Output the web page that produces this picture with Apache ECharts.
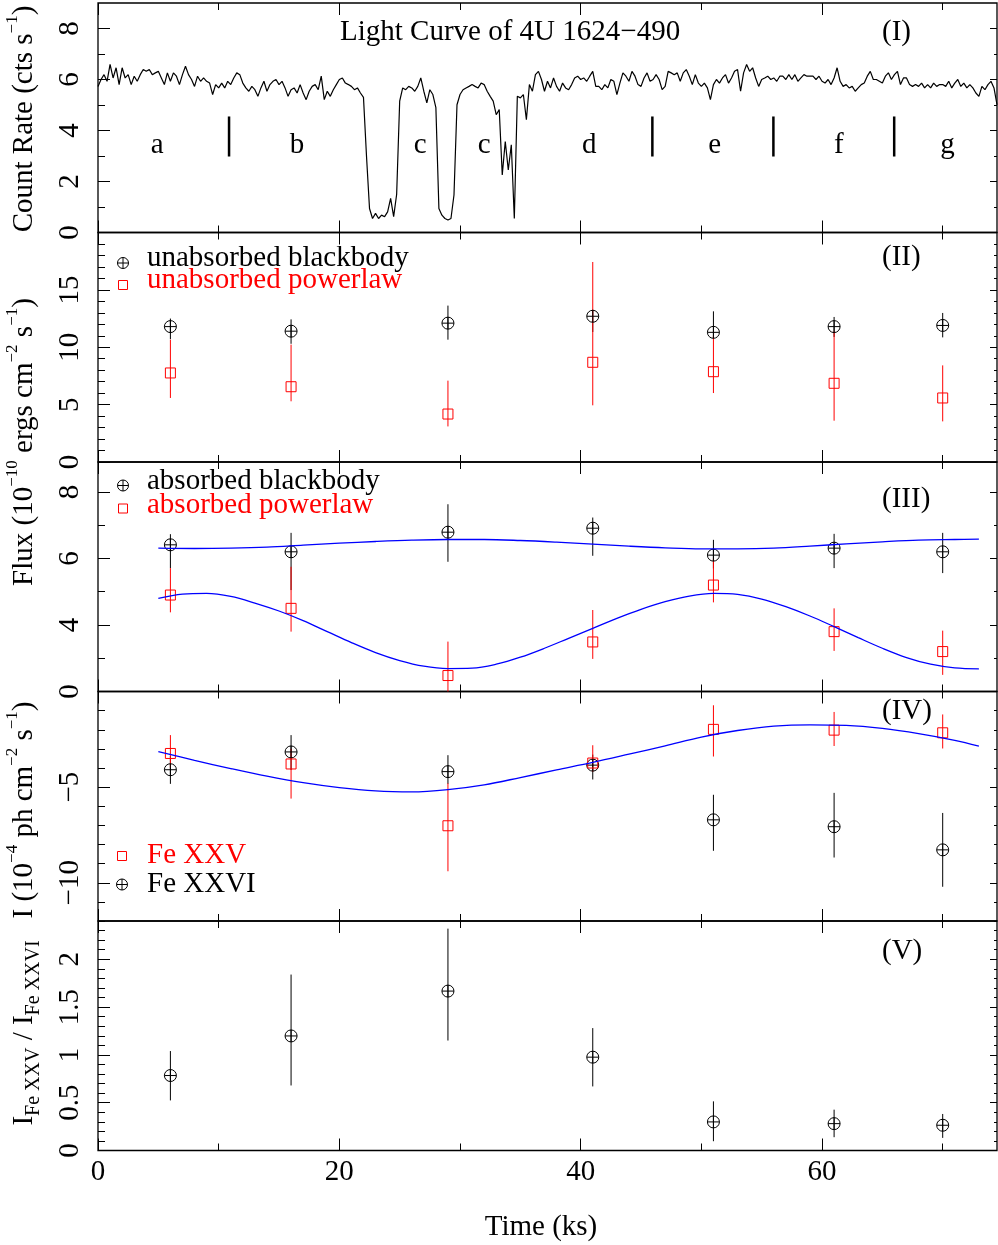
<!DOCTYPE html>
<html><head><meta charset="utf-8">
<script src="https://cdn.jsdelivr.net/npm/echarts@6/dist/echarts.min.js"></script>
<style>html,body{margin:0;padding:0;background:#fff}#c{width:998px;height:1245px}</style>
</head><body><div id="c"></div>
<script>
// ---------------- DATA ----------------
// Light curve (cts/s), bins of 0.25 ks starting at 0 ks
const lcStart = 0;
const lcBin = 0.25;
const lcRate = [
5.73,6.00,6.19,5.93,6.59,6.06,6.46,5.80,6.46,6.06,
6.19,5.80,6.13,5.93,6.19,6.39,6.32,6.39,6.19,6.26,
6.32,6.06,5.80,6.26,5.93,6.26,6.13,5.80,6.19,6.52,
6.19,6.00,5.73,6.13,5.93,6.06,5.93,5.86,5.41,5.80,
5.67,5.86,5.67,5.93,5.80,6.06,6.26,6.19,5.86,5.67,
5.54,5.73,5.60,5.34,5.67,5.93,5.54,5.80,5.93,6.00,
5.80,5.93,5.67,5.34,5.60,5.67,5.47,5.80,5.47,5.21,
5.54,5.73,5.80,5.60,6.13,5.21,5.54,5.34,5.60,5.80,
6.00,6.06,5.86,5.80,5.73,5.60,5.67,5.47,5.30,3.00,
0.94,0.55,0.75,0.55,0.68,0.62,0.81,1.34,0.62,1.50,
5.15,5.67,5.60,5.73,5.67,5.54,5.73,6.06,5.54,5.08,
5.60,5.41,4.90,0.94,0.68,0.55,0.49,0.55,1.47,5.01,
5.41,5.60,5.67,5.73,5.80,5.73,5.67,5.86,5.80,5.54,
5.34,5.15,4.62,4.82,2.26,3.57,2.45,3.44,0.55,5.34,
5.28,5.41,4.42,5.80,5.54,6.19,6.32,6.00,5.54,
5.93,5.67,6.06,5.73,5.54,5.86,5.67,5.60,5.80,6.06,
6.13,6.00,6.06,5.93,6.13,6.32,5.73,5.73,5.60,5.80,
5.67,6.00,5.93,5.41,5.86,6.26,6.13,5.93,6.32,6.13,
5.80,5.73,6.06,6.26,5.93,6.00,6.19,6.00,5.60,5.73,
6.32,6.26,6.19,6.26,5.93,6.26,6.39,6.13,5.80,6.19,
5.86,5.73,5.86,5.67,5.21,5.80,6.00,5.86,6.06,6.19,
5.86,6.06,6.32,6.39,5.54,6.26,6.59,6.32,6.46,6.06,
5.73,6.00,6.06,6.13,6.00,6.06,5.93,6.13,6.13,6.00,
6.19,6.00,6.19,5.93,6.06,6.19,6.13,6.13,6.13,6.00,
6.13,5.93,5.86,6.00,5.80,6.06,6.46,5.93,5.73,5.80,
5.67,5.73,5.54,5.67,5.80,5.86,6.13,6.32,6.00,6.00,
5.93,5.86,6.13,6.26,6.00,6.19,6.32,5.80,6.06,6.06,
5.80,5.73,5.80,5.73,5.86,5.67,5.80,5.67,5.86,5.73,
5.80,5.80,5.73,5.93,5.67,5.86,6.00,5.73,5.86,5.67,
5.80,5.67,5.47,5.34,5.73,5.60,5.80,5.93,5.67,5.01
];
// segment separators and labels in the light curve
const sepTimes = [10.86, 45.94, 55.97, 65.98];
const sepLow = 2.98, sepHigh = 4.55;
const segLabels = ['a','b','c','c','d','e','f','g'];
const segLabelTimes = [4.9, 16.5, 26.7, 32.0, 40.7, 51.1, 61.4, 70.4];
const segLabelLevel = 3.4;

// spectral time bins (ks)
const specTime = [6, 16, 29, 41, 51, 61, 70];

// Panel II: unabsorbed fluxes (1e-10 erg/cm2/s)
const unabsBB   = [11.8, 11.4, 12.1, 12.7, 11.3, 11.8, 11.9];
const unabsBBLo = [10.7, 10.3, 10.66, 11.33, 10.8, 10.9, 10.86];
const unabsBBHi = [12.5, 12.43, 13.63, 13.28, 13.13, 12.64, 12.99];
const unabsPL   = [7.76, 6.56, 4.18, 8.69, 7.87, 6.86, 5.58];
const unabsPLLo = [5.58, 5.29, 3.10, 4.94, 6.01, 3.6, 3.54];
const unabsPLHi = [10.66, 10.23, 7.09, 17.43, 11.0, 11.4, 8.42];

// Panel III: absorbed fluxes
const absBB   = [6.41, 6.2, 6.79, 6.91, 6.1, 6.31, 6.2];
const absBBLo = [5.71, 5.05, 5.9, 6.08, 5.7, 5.71, 5.56];
const absBBHi = [6.73, 6.77, 7.63, 7.23, 6.56, 6.74, 6.77];
const absPL   = [4.9, 4.5, 2.48, 3.49, 5.2, 3.8, 3.2];
const absPLLo = [4.38, 3.8, 1.8, 2.98, 4.68, 3.22, 2.5];
const absPLHi = [5.71, 5.75, 3.5, 4.45, 6.0, 4.5, 3.83];
const fitBBTime = [5, 8, 11, 14, 17, 20, 23, 26, 29, 32, 35, 38, 41, 44, 47, 50, 53, 56, 59, 62, 65, 68, 71, 73];
const fitBBVal  = [6.31, 6.30, 6.31, 6.34, 6.40, 6.46, 6.51, 6.55, 6.57, 6.57, 6.54, 6.49, 6.43, 6.37, 6.32, 6.29, 6.29, 6.31, 6.37, 6.44, 6.50, 6.55, 6.57, 6.58];
const fitPLTime = [5, 7, 9, 11, 13, 15, 17, 19, 21, 23, 25, 27, 29, 31, 33, 35, 37, 39, 41, 43, 45, 47, 49, 51, 53, 55, 57, 59, 61, 63, 65, 67, 69, 71, 73];
const fitPLVal  = [4.80, 4.93, 4.95, 4.86, 4.66, 4.42, 4.13, 3.80, 3.47, 3.17, 2.93, 2.76, 2.69, 2.70, 2.82, 3.03, 3.30, 3.60, 3.90, 4.20, 4.47, 4.70, 4.87, 4.95, 4.92, 4.78, 4.55, 4.27, 3.95, 3.62, 3.30, 3.02, 2.82, 2.71, 2.68];

// Panel IV: line intensities (1e-4 ph/cm2/s)
const feXXV     = [-3.24, -3.79, -7.02, -3.74, -1.98, -2.02, -2.16];
const feXXVLo   = [-4.0, -5.6, -9.4, -4.2, -3.4, -2.85, -2.98];
const feXXVHi   = [-2.28, -3.0, -4.8, -2.81, -0.72, -1.07, -1.2];
const feXXVI    = [-4.09, -3.16, -4.19, -3.85, -6.71, -7.07, -8.28];
const feXXVILo  = [-4.83, -4.1, -4.83, -4.6, -8.33, -8.68, -10.21];
const feXXVIHi  = [-3.36, -2.28, -3.33, -3.3, -5.4, -5.3, -6.35];
const fitFeTime = [5, 8, 11, 14, 17, 20, 23, 26, 29, 32, 35, 38, 41, 44, 47, 50, 53, 56, 59, 62, 65, 68, 71, 73];
const fitFeVal  = [-3.14, -3.60, -4.03, -4.43, -4.77, -5.03, -5.20, -5.25, -5.13, -4.88, -4.50, -4.10, -3.71, -3.28, -2.84, -2.38, -2.04, -1.81, -1.74, -1.77, -1.93, -2.20, -2.55, -2.85];

// Panel V: ratio
const ratio   = [0.784, 1.198, 1.667, 0.976, 0.299, 0.281, 0.264];
const ratioLo = [0.524, 0.68, 1.15, 0.67, 0.097, 0.139, 0.132];
const ratioHi = [1.04, 1.84, 2.32, 1.28, 0.514, 0.427, 0.382];

// Tick values / labels
const xMajorTicks = [0, 20, 40, 60];
const xMinorTicks = [10, 30, 50, 70];
const p1Major = [0, 2, 4, 6, 8], p1Labels = [0, 2, 4, 6, 8], p1Minor = [1, 3, 5, 7];
const p2Major = [0, 5, 10, 15], p2Labels = [0, 5, 10, 15], p2Minor = [1,2,3,4,6,7,8,9,11,12,13,14,16,17,18,19];
const p3Major = [2, 4, 6, 8], p3Labels = [4, 6, 8], p3Minor = [3, 5, 7];
const p4Major = [-10, -5, 0], p4Labels = [-10, -5, 0], p4Minor = [-12,-11,-9,-8,-7,-6,-4,-3,-2,-1];
const p5Major = [0, 0.5, 1, 1.5, 2], p5Labels = [0, 0.5, 1, 1.5, 2], p5Minor = [0.1,0.2,0.3,0.4,0.6,0.7,0.8,0.9,1.1,1.2,1.3,1.4,1.6,1.7,1.8,1.9,2.1,2.2,2.3];

// ---------------- CHART ----------------
const FONT = 'Liberation Serif';
const lcData = lcRate.map((v, i) => [lcStart + i * lcBin, v]);

const panels = [
  {top: 3,     yMin: 0,   yMax: 9,   major: p1Major, labels: p1Labels, minor: p1Minor},
  {top: 232.5, yMin: 0,   yMax: 20,  major: p2Major, labels: p2Labels, minor: p2Minor},
  {top: 462,   yMin: 2,   yMax: 8.9, major: p3Major, labels: p3Labels, minor: p3Minor},
  {top: 691.5, yMin: -12, yMax: 0,   major: p4Major, labels: p4Labels, minor: p4Minor},
  {top: 921,   yMin: 0,   yMax: 2.4, major: p5Major, labels: p5Labels, minor: p5Minor}
];
const GH = 229.5;
const fmt = v => String(v).replace('-', '\u2212');

const grids = [], xAxes = [], yAxes = [];
panels.forEach((p, gi) => {
  grids.push({left: 98, width: 899, top: p.top, height: GH, show: true, borderColor: '#000', borderWidth: 1.3, backgroundColor: 'transparent'});
  const xa = (pos, vals, len, labels) => ({
    type: 'value', gridIndex: gi, position: pos, min: 0, max: 74.5,
    axisLine: {show: false, onZero: false}, splitLine: {show: false},
    axisTick: {show: true, inside: true, length: len, customValues: vals, lineStyle: {color: '#000', width: 1}},
    axisLabel: labels ? {show: true, customValues: labels, margin: 7, fontSize: 29, fontFamily: FONT, color: '#000'} : {show: false}
  });
  xAxes.push(xa('bottom', xMajorTicks, 12, gi === 4 ? xMajorTicks : null));
  xAxes.push(xa('bottom', xMinorTicks, 7, null));
  xAxes.push(xa('top', xMajorTicks, 12, null));
  xAxes.push(xa('top', xMinorTicks, 7, null));
  const ya = (pos, vals, len, labels) => ({
    type: 'value', gridIndex: gi, position: pos, min: p.yMin, max: p.yMax,
    axisLine: {show: false, onZero: false}, splitLine: {show: false},
    axisTick: {show: true, inside: true, length: len, customValues: vals, lineStyle: {color: '#000', width: 1}},
    axisLabel: labels ? {show: true, customValues: labels, rotate: 90, margin: 13, fontSize: 29, fontFamily: FONT, color: '#000', formatter: fmt} : {show: false}
  });
  yAxes.push(ya('left', p.major, 12, p.labels));
  yAxes.push(ya('left', p.minor, 7, null));
  yAxes.push(ya('right', p.major, 7, null));
  yAxes.push(ya('right', p.minor, 3, null));
});

const OPLUS = 'path://M0,10A10,10,0,1,1,20,10A10,10,0,1,1,0,10ZM10,0L10,20M0,10L20,10';

function errSeries(gi, t, lo, hi, color) {
  return {
    type: 'custom', xAxisIndex: gi * 4, yAxisIndex: gi * 4, z: 2, silent: true,
    data: t.map((x, i) => [x, lo[i], hi[i]]),
    encode: {x: 0, y: [1, 2]},
    renderItem: (params, api) => {
      const cs = params.coordSys;
      const a = api.coord([api.value(0), api.value(1)]);
      const b = api.coord([api.value(0), api.value(2)]);
      const cl = y => Math.max(cs.y, Math.min(cs.y + cs.height, y));
      return {type: 'line', shape: {x1: a[0], y1: cl(a[1]), x2: b[0], y2: cl(b[1])}, style: {stroke: color, lineWidth: 1}};
    }
  };
}
function markSeries(gi, t, v, kind) {
  const bb = kind === 'bb';
  return {
    type: 'scatter', xAxisIndex: gi * 4, yAxisIndex: gi * 4, z: 3, silent: true,
    symbol: bb ? OPLUS : 'rect', symbolSize: bb ? 12 : 10,
    itemStyle: {color: 'rgba(0,0,0,0)', borderColor: bb ? '#000' : '#ff0000', borderWidth: 1, opacity: 1},
    data: t.map((x, i) => [x, v[i]])
  };
}
function fitSeries(gi, t, v) {
  return {
    type: 'line', xAxisIndex: gi * 4, yAxisIndex: gi * 4, z: 4, silent: true,
    data: t.map((x, i) => [x, v[i]]), showSymbol: false, smooth: 0.35,
    lineStyle: {color: '#0000ff', width: 1.3}
  };
}

const series = [
  {type: 'line', xAxisIndex: 0, yAxisIndex: 0, data: lcData, showSymbol: false, silent: true,
   lineStyle: {color: '#000', width: 1.2}},
  {type: 'custom', xAxisIndex: 0, yAxisIndex: 0, silent: true,
   data: sepTimes.map(t => [t, sepLow, sepHigh]), encode: {x: 0, y: [1, 2]},
   renderItem: (params, api) => {
     const a = api.coord([api.value(0), api.value(1)]);
     const b = api.coord([api.value(0), api.value(2)]);
     return {type: 'line', shape: {x1: a[0], y1: a[1], x2: b[0], y2: b[1]}, style: {stroke: '#000', lineWidth: 2.5}};
   }},
  {type: 'custom', xAxisIndex: 0, yAxisIndex: 0, silent: true,
   data: segLabelTimes.map(t => [t, segLabelLevel]), encode: {x: 0, y: 1},
   renderItem: (params, api) => {
     const p = api.coord([api.value(0), api.value(1)]);
     return {type: 'text', x: p[0], y: p[1], style: {text: segLabels[params.dataIndex], font: '29px "Liberation Serif"', fill: '#000', align: 'center', verticalAlign: 'middle'}};
   }},
  errSeries(1, specTime, unabsBBLo, unabsBBHi, '#000'),
  errSeries(1, specTime, unabsPLLo, unabsPLHi, '#ff0000'),
  markSeries(1, specTime, unabsBB, 'bb'),
  markSeries(1, specTime, unabsPL, 'pl'),
  errSeries(2, specTime, absBBLo, absBBHi, '#000'),
  errSeries(2, specTime, absPLLo, absPLHi, '#ff0000'),
  markSeries(2, specTime, absBB, 'bb'),
  markSeries(2, specTime, absPL, 'pl'),
  fitSeries(2, fitBBTime, fitBBVal),
  fitSeries(2, fitPLTime, fitPLVal),
  errSeries(3, specTime, feXXVILo, feXXVIHi, '#000'),
  errSeries(3, specTime, feXXVLo, feXXVHi, '#ff0000'),
  markSeries(3, specTime, feXXVI, 'bb'),
  markSeries(3, specTime, feXXV, 'pl'),
  fitSeries(3, fitFeTime, fitFeVal),
  errSeries(4, specTime, ratioLo, ratioHi, '#000'),
  markSeries(4, specTime, ratio, 'bb')
];

// ---- annotations ----
const rich = {
  n: {fontSize: 29, fontFamily: FONT, lineHeight: 40},
  sup: {fontSize: 17, fontFamily: FONT, lineHeight: 24, verticalAlign: 'top'},
  sub: {fontSize: 20, fontFamily: FONT, lineHeight: 17, verticalAlign: 'bottom'}
};
function vtitle(x, y, text) {
  return {type: 'text', x: x, y: y, rotation: Math.PI / 2, silent: true,
    style: {text: text, rich: rich, fill: '#000', font: '29px "Liberation Serif"', align: 'center', verticalAlign: 'middle'}};
}
function htext(x, y, text, color, align) {
  return {type: 'text', x: x, y: y, silent: true,
    style: {text: text, fill: color || '#000', font: '29px "Liberation Serif"', align: align || 'left', verticalAlign: 'middle'}};
}
function oplus(cx, cy, r) {
  return [
    {type: 'circle', shape: {cx: cx, cy: cy, r: r}, style: {fill: 'none', stroke: '#000', lineWidth: 1}, silent: true},
    {type: 'line', shape: {x1: cx - r, y1: cy, x2: cx + r, y2: cy}, style: {stroke: '#000', lineWidth: 1}, silent: true},
    {type: 'line', shape: {x1: cx, y1: cy - r, x2: cx, y2: cy + r}, style: {stroke: '#000', lineWidth: 1}, silent: true}
  ];
}
function sq(cx, cy, h) {
  return {type: 'rect', shape: {x: cx - h, y: cy - h, width: 2 * h, height: 2 * h}, style: {fill: 'none', stroke: '#ff0000', lineWidth: 1}, silent: true};
}
const graphics = [
  htext(340, 32, 'Light Curve of 4U 1624\u2212490'),
  htext(882, 32.5, '(I)'),
  htext(882, 257.5, '(II)'),
  htext(882, 499, '(III)'),
  htext(882, 711.5, '(IV)'),
  htext(882, 951, '(V)'),
  ...oplus(123, 263, 5.5), htext(147, 258, 'unabsorbed blackbody'),
  sq(123, 285, 4.5), htext(147, 280, 'unabsorbed powerlaw', '#ff0000'),
  ...oplus(123, 485.5, 5.5), htext(147, 481, 'absorbed blackbody'),
  sq(123, 508.5, 4.5), htext(147, 505, 'absorbed powerlaw', '#ff0000'),
  sq(122, 856, 4.5), htext(147, 855, 'Fe XXV', '#ff0000'),
  ...oplus(122, 884.5, 5.5), htext(147, 884, 'Fe XXVI'),
  htext(541, 1227, 'Time (ks)', '#000', 'center'),
  vtitle(24, 119, '{n|Count Rate (cts s}{sup|\u22121}{n|)}'),
  vtitle(24, 442, '{n|Flux (10}{sup|\u221210}{n| ergs cm}{sup|\u22122}{n| s}{sup|\u22121}{n|)}'),
  vtitle(24, 810, '{n|I (10}{sup|\u22124}{n| ph cm}{sup|\u22122}{n| s}{sup|\u22121}{n|)}'),
  vtitle(24, 1033, '{n|I}{sub|Fe XXV}{n| / I}{sub|Fe XXVI}')
];

const chart = echarts.init(document.getElementById('c'), null, {renderer: 'canvas'});
chart.setOption({
  animation: false,
  backgroundColor: '#fff',
  grid: grids, xAxis: xAxes, yAxis: yAxes,
  series: series,
  graphic: {elements: graphics}
});
</script>
</body></html>
